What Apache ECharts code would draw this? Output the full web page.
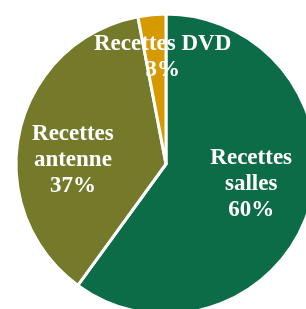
<!DOCTYPE html>
<html>
<head>
<meta charset="utf-8">
<script src="https://cdn.jsdelivr.net/npm/echarts@6/dist/echarts.min.js"></script>
<style>
  html, body { margin: 0; padding: 0; background: #fff; }
  #chart { width: 306px; height: 309px; }
</style>
</head>
<body>
<div id="chart"></div>
<script>
// parts des recettes
var categories = ['Recettes\nsalles', 'Recettes\nantenne', 'Recettes DVD'];
var values = [60, 37, 3];
var colors = ['#0c6c48', '#757a2a', '#d69a00'];

// petits décalages des étiquettes (dx, dy) par rapport au centre par défaut
var labelNudge = [[11, -4], [-17, 13], [4, -29]];

var chart = echarts.init(document.getElementById('chart'));
chart.setOption({
    animation: false,
    series: [{
        type: 'pie',
        center: [166, 164],
        radius: 150,
        startAngle: 90,
        clockwise: true,
        percentPrecision: 0,
        data: categories.map(function (c, i) {
            return { name: c, value: values[i], itemStyle: { color: colors[i] } };
        }),
        itemStyle: { borderColor: '#fff', borderWidth: 3 },
        label: {
            position: 'inside',
            formatter: '{b}\n{d}%',
            color: '#fff',
            fontFamily: 'Liberation Serif',
            fontWeight: 'bold',
            fontSize: 23,
            lineHeight: 26,
            align: 'center'
        },
        labelLine: { show: false },
        labelLayout: function (p) {
            var n = labelNudge[p.dataIndex];
            return { dx: n[0], dy: n[1] };
        }
    }]
});
</script>
</body>
</html>
